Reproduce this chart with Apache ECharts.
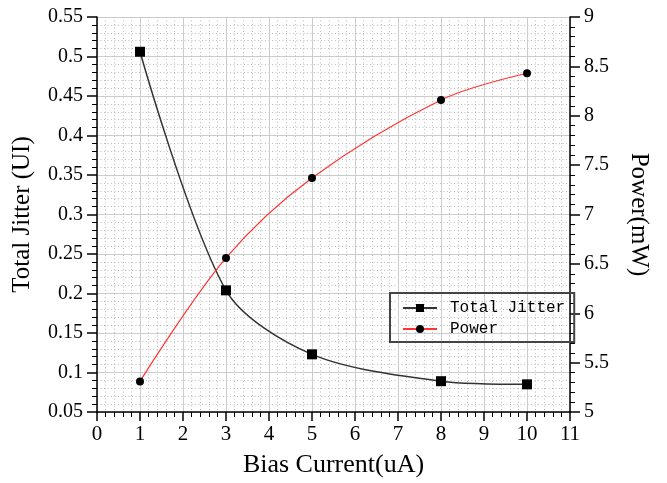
<!DOCTYPE html>
<html>
<head>
<meta charset="utf-8">
<script src="https://cdn.jsdelivr.net/npm/echarts@6/dist/echarts.min.js"></script>
<style>html,body{margin:0;padding:0;background:#fff}#c{width:667px;height:483px}</style>
</head>
<body>
<div id="c"></div>
<script>
var biasCurrent = [1, 3, 5, 8, 10];
var totalJitter = [0.506, 0.204, 0.123, 0.089, 0.085];
var power = [5.31, 6.56, 7.37, 8.16, 8.43];
var seriesNames = ['Total Jitter', 'Power'];

function pairs(xs, ys) { return xs.map(function (x, i) { return [x, ys[i]]; }); }

var serif = 'Liberation Serif';
var chart = echarts.init(document.getElementById('c'), null, { renderer: 'canvas' });
var axisLine = { show: true, lineStyle: { color: '#000', width: 1.5 } };
var majorSplit = { show: true, lineStyle: { color: '#cccccc', width: 1 } };
var minorSplit = { show: true, lineStyle: { color: '#bdbdbd', width: 1, type: [1, 2.5] } };

chart.setOption({
  animation: false,
  backgroundColor: '#fff',
  grid: { left: 97, right: 97, top: 17, bottom: 69, containLabel: false },
  legend: {
    left: 390, top: 293, orient: 'vertical',
    data: seriesNames,
    borderColor: '#444', borderWidth: 2, padding: [7, 9, 5, 12],
    itemWidth: 34, itemHeight: 10, itemGap: 5,
    textStyle: { fontFamily: 'Liberation Mono', fontSize: 16, color: '#000', padding: [0, 0, 0, 8] }
  },
  xAxis: {
    type: 'value', min: 0, max: 11, interval: 1,
    name: 'Bias Current(uA)', nameLocation: 'middle', nameGap: 40,
    nameTextStyle: { fontFamily: serif, fontSize: 26, color: '#000' },
    axisLine: axisLine,
    axisTick: { show: true, inside: false, length: 9, lineStyle: { color: '#000', width: 1.5 } },
    minorTick: { show: true, splitNumber: 5, length: 5, lineStyle: { color: '#000', width: 1 } },
    axisLabel: { fontFamily: serif, fontSize: 21, color: '#000', margin: 12 },
    splitLine: majorSplit,
    minorSplitLine: minorSplit
  },
  yAxis: [{
    type: 'value', min: 0.05, max: 0.55, interval: 0.05, position: 'left',
    name: 'Total Jitter (UI)', nameLocation: 'middle', nameGap: 62,
    nameTextStyle: { fontFamily: serif, fontSize: 25, color: '#000' },
    axisLine: axisLine,
    axisTick: { show: true, inside: false, length: 10, lineStyle: { color: '#000', width: 1.5 } },
    minorTick: { show: true, splitNumber: 5, length: 5, lineStyle: { color: '#000', width: 1 } },
    axisLabel: { fontFamily: serif, fontSize: 20, color: '#000', margin: 14,
      formatter: function (v) { return String(Math.round(v * 100) / 100); } },
    splitLine: majorSplit,
    minorSplitLine: minorSplit
  }, {
    type: 'value', min: 5, max: 9, interval: 0.5, position: 'right',
    name: 'Power(mW)', nameLocation: 'middle', nameGap: 56, nameRotate: -90,
    nameTextStyle: { fontFamily: serif, fontSize: 25, color: '#000' },
    axisLine: axisLine,
    axisTick: { show: true, inside: false, length: 10, lineStyle: { color: '#000', width: 1.5 } },
    minorTick: { show: true, splitNumber: 5, length: 5, lineStyle: { color: '#000', width: 1 } },
    axisLabel: { fontFamily: serif, fontSize: 20, color: '#000', margin: 14 },
    splitLine: { show: false },
    minorSplitLine: { show: false }
  }],
  series: [{
    name: seriesNames[0], type: 'line', yAxisIndex: 0,
    data: pairs(biasCurrent, totalJitter),
    smooth: 0.3, symbol: 'rect', symbolSize: 10,
    itemStyle: { color: '#000' },
    lineStyle: { color: '#333', width: 1.5 }
  }, {
    name: seriesNames[1], type: 'line', yAxisIndex: 1,
    data: pairs(biasCurrent, power),
    smooth: 0.35, symbol: 'circle', symbolSize: 8,
    itemStyle: { color: '#000' },
    lineStyle: { color: '#ff3333', width: 1.2 }
  }]
});
</script>
</body>
</html>
